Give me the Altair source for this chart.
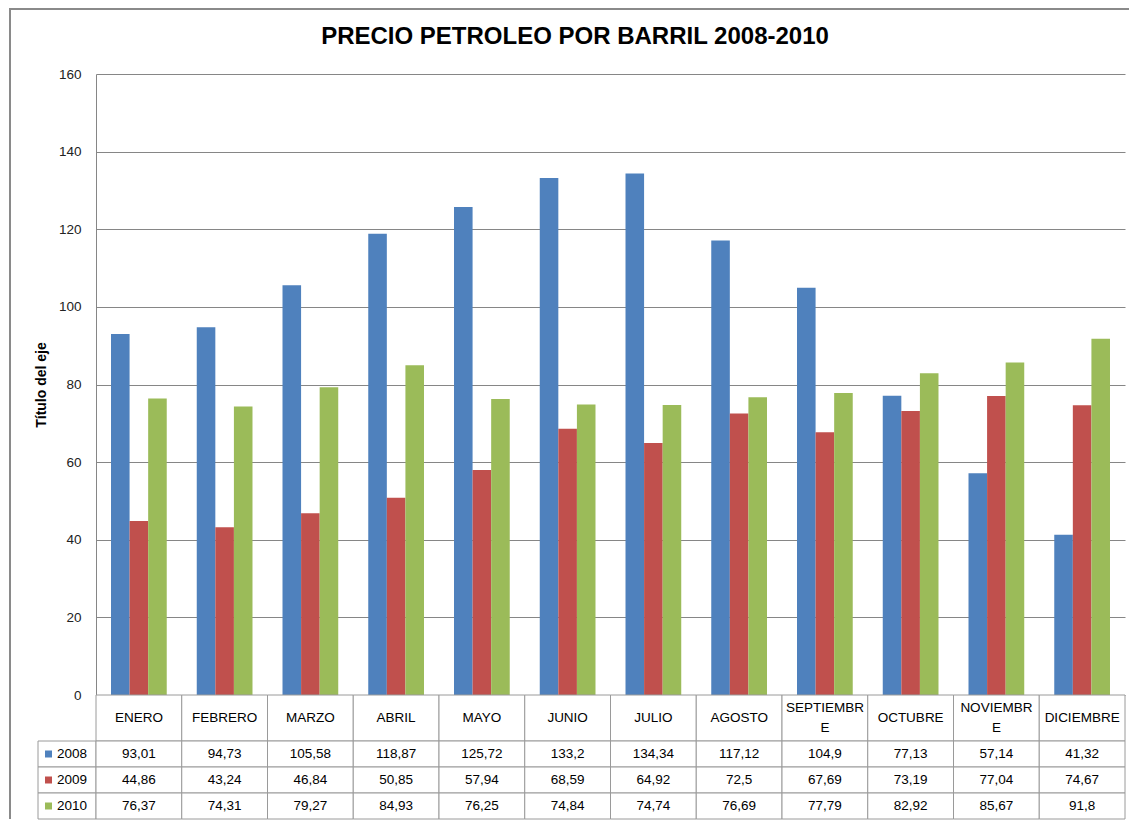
import altair as alt
import pandas as pd

# ---- data ----
meses = ["ENERO", "FEBRERO", "MARZO", "ABRIL", "MAYO", "JUNIO", "JULIO",
         "AGOSTO", "SEPTIEMBRE", "OCTUBRE", "NOVIEMBRE", "DICIEMBRE"]
linea1 = ["ENERO", "FEBRERO", "MARZO", "ABRIL", "MAYO", "JUNIO", "JULIO",
          "AGOSTO", "SEPTIEMBR", "OCTUBRE", "NOVIEMBR", "DICIEMBRE"]
linea2 = ["", "", "", "", "", "", "", "", "E", "", "E", ""]
anios = ["2008", "2009", "2010"]
v2008 = [93.01, 94.73, 105.58, 118.87, 125.72, 133.2, 134.34, 117.12, 104.9, 77.13, 57.14, 41.32]
v2009 = [44.86, 43.24, 46.84, 50.85, 57.94, 68.59, 64.92, 72.5, 67.69, 73.19, 77.04, 74.67]
v2010 = [76.37, 74.31, 79.27, 84.93, 76.25, 74.84, 74.74, 76.69, 77.79, 82.92, 85.67, 91.8]
y_ticks = [0, 20, 40, 60, 80, 100, 120, 140, 160]
colores = ["#4F81BD", "#C0504D", "#9BBB59"]
titulo = "PRECIO PETROLEO POR BARRIL 2008-2010"
titulo_eje = "Título del eje"

series = {"2008": v2008, "2009": v2009, "2010": v2010}
rows = []
for a in anios:
    for m, v in zip(meses, series[a]):
        rows.append({"mes": m, "anio": a, "valor": v, "texto": str(v).replace(".", ",")})
df = pd.DataFrame(rows)
hdr = pd.DataFrame({"mes": meses, "l1": linea1, "l2": linea2})
hdr["dos"] = hdr["l2"] != ""
leg = pd.DataFrame({"anio": anios})
uno = pd.DataFrame({"k": [0]})

FONT = "Liberation Sans"
GRID = "#868686"
TABLE = "#9a9a9a"
FRAME = "#8a8a8a"
W = 1029
H = 621
H_HDR = 46
H_BODY = 78

color_scale = alt.Scale(domain=anios, range=colores)

# ---- bar chart ----
bars = alt.Chart(df).mark_bar().encode(
    x=alt.X("mes:N", sort=meses,
            scale=alt.Scale(domain=meses, paddingInner=0.35, paddingOuter=0.175),
            axis=None),
    xOffset=alt.XOffset("anio:N", scale=alt.Scale(domain=anios, paddingInner=0, paddingOuter=0)),
    y=alt.Y("valor:Q", scale=alt.Scale(domain=[0, 160], nice=False),
            axis=alt.Axis(values=y_ticks, title=titulo_eje, ticks=False, labelPadding=15,
                          labelFont=FONT, labelFontSize=13.5, labelColor="#222222",
                          domainColor=GRID, gridColor=GRID, gridOpacity=1,
                          titleFont=FONT, titleFontSize=14, titleFontWeight="bold",
                          titleColor="#000000", titleAngle=-90, titleBaseline="middle",
                          titleX=-55, titleAnchor="middle")),
    color=alt.Color("anio:N", scale=color_scale, legend=None),
)
# outer chart frame (left and top edges)
frame_left = alt.Chart(uno).mark_rule(color=FRAME, strokeWidth=2).encode(
    x=alt.value(-86), y=alt.value(-65), y2=alt.value(H + H_HDR + H_BODY))
frame_top = alt.Chart(uno).mark_rule(color=FRAME, strokeWidth=2).encode(
    x=alt.value(-87), x2=alt.value(W + 4), y=alt.value(-65))
top = alt.layer(frame_left, frame_top, bars).properties(width=W, height=H)

# ---- table header ----
tscale = alt.Scale(domain=meses, paddingInner=0, paddingOuter=0)
hx = alt.X("mes:N", sort=meses, scale=tscale, axis=None)
hdr_cells = alt.Chart(hdr).mark_rect(fill="white", stroke=TABLE, strokeWidth=1).encode(x=hx)
hdr_one = alt.Chart(hdr).transform_filter("!datum.dos").mark_text(
    font=FONT, fontSize=13.5, color="#000000", baseline="middle").encode(x=hx, text="l1:N")
hdr_two_a = alt.Chart(hdr).transform_filter("datum.dos").mark_text(
    font=FONT, fontSize=13.5, color="#000000", baseline="middle", dy=-10).encode(x=hx, text="l1:N")
hdr_two_b = alt.Chart(hdr).transform_filter("datum.dos").mark_text(
    font=FONT, fontSize=13.5, color="#000000", baseline="middle", dy=10).encode(x=hx, text="l2:N")
header = alt.layer(hdr_cells, hdr_one, hdr_two_a, hdr_two_b).properties(width=W, height=H_HDR)

# ---- table body ----
yscale = alt.Scale(domain=anios, paddingInner=0, paddingOuter=0)
cells = alt.Chart(df).mark_rect(fill="white", stroke=TABLE, strokeWidth=1).encode(
    x=alt.X("mes:N", sort=meses, scale=tscale, axis=None),
    y=alt.Y("anio:N", scale=yscale, axis=None),
)
cell_text = alt.Chart(df).mark_text(font=FONT, fontSize=13.5, color="#000000").encode(
    x=alt.X("mes:N", sort=meses, scale=tscale, axis=None),
    y=alt.Y("anio:N", scale=yscale, axis=None),
    text="texto:N",
)
leg_cells = alt.Chart(leg).mark_rect(fill="white", stroke=TABLE, strokeWidth=1).encode(
    x=alt.value(-58), x2=alt.value(0),
    y=alt.Y("anio:N", scale=yscale, axis=None),
)
leg_sq = alt.Chart(leg).mark_square(size=49, opacity=1).encode(
    x=alt.value(-47.5),
    y=alt.Y("anio:N", scale=yscale, axis=None),
    color=alt.Color("anio:N", scale=color_scale, legend=None),
)
leg_text = alt.Chart(leg).mark_text(font=FONT, fontSize=13.5, color="#000000", align="left").encode(
    x=alt.value(-39),
    y=alt.Y("anio:N", scale=yscale, axis=None),
    text="anio:N",
)
body = alt.layer(leg_cells, cells, leg_sq, cell_text, leg_text).properties(width=W, height=H_BODY)

chart = alt.vconcat(top, header, body, spacing=0, bounds="flush").properties(
    title=alt.TitleParams(titulo, font=FONT, fontSize=24, fontWeight="bold",
                          color="#000000", anchor="middle", offset=-41, dx=6),
    padding={"left": 0, "top": 0, "right": 0, "bottom": 0},
).configure_view(stroke=None).configure_concat(spacing=0)

chart.save("out.html", embed_options={"renderer": "svg", "actions": False})
